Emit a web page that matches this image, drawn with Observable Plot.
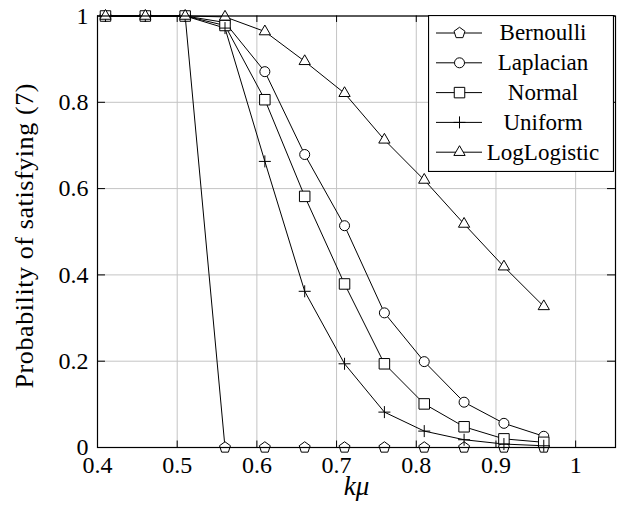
<!DOCTYPE html>
<html><head><meta charset="utf-8">
<script src="https://cdn.jsdelivr.net/npm/d3@7"></script>
<script src="https://cdn.jsdelivr.net/npm/@observablehq/plot@0.6"></script>
<style>
body{margin:0;background:#fff;font-family:'Liberation Serif';}
#wrap{position:relative;width:623px;height:513px;}
#legend{position:absolute;left:428px;top:15px;}
#wrap svg text, #wrap svg tspan{font-family:'Liberation Serif' !important;}
</style></head><body>
<div id="wrap"></div>
<script>
const kmu = [0.41,0.46,0.51,0.56,0.61,0.66,0.71,0.76,0.81,0.86,0.91,0.96];
const seriesNames = ["Bernoulli","Laplacian","Normal","Uniform","LogLogistic"];
const bernoulli   = [1,1,1,0,0,0,0,0,0,0,0,0];
const laplacian   = [1,1,1,0.985,0.871,0.679,0.514,0.312,0.199,0.105,0.056,0.026];
const normal      = [1,1,1,0.978,0.806,0.582,0.379,0.194,0.101,0.048,0.020,0.012];
const uniform     = [1,1,1,0.972,0.663,0.362,0.194,0.082,0.038,0.018,0.008,0.004];
const loglogistic = [1,1,1,0.998,0.964,0.895,0.821,0.713,0.620,0.518,0.419,0.327];
const xTicks = [0.4,0.5,0.6,0.7,0.8,0.9,1];
const yTicks = [0,0.2,0.4,0.6,0.8,1];

const values = [bernoulli, laplacian, normal, uniform, loglogistic];
const data = [];
seriesNames.forEach((s, i) => kmu.forEach((x, j) => data.push({series: s, x, y: values[i][j]})));

const rad = size => Math.sqrt(size / Math.PI);
const pentagon = {draw(ctx, size){ const r = rad(size)*1.15; for(let i=0;i<5;i++){const a=-Math.PI/2+i*2*Math.PI/5; const px=r*Math.cos(a), py=r*Math.sin(a); i?ctx.lineTo(px,py):ctx.moveTo(px,py);} ctx.closePath(); }};
const circle = {draw(ctx, size){ const r = rad(size); ctx.moveTo(r,0); ctx.arc(0,0,r,0,2*Math.PI); }};
const square = {draw(ctx, size){ const r = rad(size)*1.05; ctx.moveTo(-r,-r); ctx.lineTo(r,-r); ctx.lineTo(r,r); ctx.lineTo(-r,r); ctx.closePath(); }};
const plus = {draw(ctx, size){ const r = rad(size)*1.2; ctx.moveTo(-r,0); ctx.lineTo(r,0); ctx.moveTo(0,-r); ctx.lineTo(0,r); }};
const triangle = {draw(ctx, size){ const r = rad(size)*1.3; const h = r*Math.sqrt(3)/2; ctx.moveTo(0,-r); ctx.lineTo(h,r/2); ctx.lineTo(-h,r/2); ctx.closePath(); }};
const symbols = [pentagon, circle, square, plus, triangle];

const FONT = "Liberation Serif";
const gridColor = "#c4c4c4";

const plot = Plot.plot({
  width: 623, height: 513,
  marginLeft: 97, marginRight: 8, marginTop: 15.5, marginBottom: 66,
  style: {fontFamily: FONT, fontSize: "24px", color: "black", background: "white"},
  x: {domain: [0.4, 1.05]},
  y: {domain: [0, 1]},
  symbol: {domain: seriesNames, range: symbols},
  marks: [
    Plot.ruleX(xTicks, {stroke: gridColor, strokeWidth: 1}),
    Plot.ruleY(yTicks, {stroke: gridColor, strokeWidth: 1}),
    Plot.ruleX(xTicks, {x: d => d, y1: 0, y2: 0.015, stroke: "black", strokeWidth: 1}),
    Plot.ruleX(xTicks, {x: d => d, y1: 0.985, y2: 1, stroke: "black", strokeWidth: 1}),
    Plot.ruleY(yTicks, {y: d => d, x1: 0.4, x2: 0.41, stroke: "black", strokeWidth: 1}),
    Plot.ruleY(yTicks, {y: d => d, x1: 1.04, x2: 1.05, stroke: "black", strokeWidth: 1}),
    Plot.axisX({ticks: xTicks, tickSize: 0, tickPadding: 8, tickFormat: d => String(d), label: null, fontSize: 24, fontFamily: FONT}),
    Plot.axisY({ticks: yTicks, tickSize: 0, tickPadding: 9, tickFormat: d => String(d), label: null, fontSize: 24, fontFamily: FONT}),
    Plot.line(data, {x: "x", y: "y", z: "series", stroke: "black", strokeWidth: 1}),
    Plot.dot(data, {x: "x", y: "y", symbol: "series", r: 5, fill: "white", stroke: "black", strokeWidth: 1}),
    Plot.frame({stroke: "black", strokeWidth: 1.2}),
    Plot.text(["Probability of satisfying (7)"], {text: d => d, frameAnchor: "left", textAnchor: "middle", rotate: -90, dx: -73, dy: 4, fontSize: 26, fontFamily: FONT}),
    Plot.text(["kμ"], {text: d => d, frameAnchor: "bottom", dy: 47, fontSize: 27, fontStyle: "italic", fontFamily: FONT})
  ]
});
const wrap = document.getElementById("wrap");
wrap.appendChild(plot);

const lw = 186, lh = 157, rowH = 29.8, row0 = 18;
const leg = d3.create("svg").attr("id","legend").attr("width", lw).attr("height", lh)
  .attr("font-family", FONT).attr("font-size", 23);
leg.append("rect").attr("x",0.5).attr("y",0.5).attr("width",lw-1).attr("height",lh-1).attr("fill","white").attr("stroke","black").attr("stroke-width",1.2);
seriesNames.forEach((s, i) => {
  const cy = row0 + i*rowH;
  leg.append("line").attr("x1",8).attr("x2",54).attr("y1",cy).attr("y2",cy).attr("stroke","black");
  leg.append("path").attr("d", d3.symbol(symbols[i], Math.PI*25)()).attr("transform",`translate(31.5,${cy})`).attr("fill","white").attr("stroke","black");
  leg.append("text").attr("x",115).attr("y",cy).attr("dy","0.32em").attr("text-anchor","middle").text(s);
});
wrap.appendChild(leg.node());

// force the serif face on every text element (inline, important)
document.querySelectorAll("#wrap svg").forEach(svg => {
  svg.setAttribute("font-family", FONT);
  svg.style.setProperty("font-family", "'Liberation Serif'", "important");
});
document.querySelectorAll("#wrap svg text, #wrap svg tspan").forEach(t => {
  t.setAttribute("font-family", FONT);
  t.style.setProperty("font-family", "'Liberation Serif'", "important");
  if (t.textContent === "Probability of satisfying (7)") t.style.setProperty("letter-spacing", "0.6px");
});
</script>
</body></html>
